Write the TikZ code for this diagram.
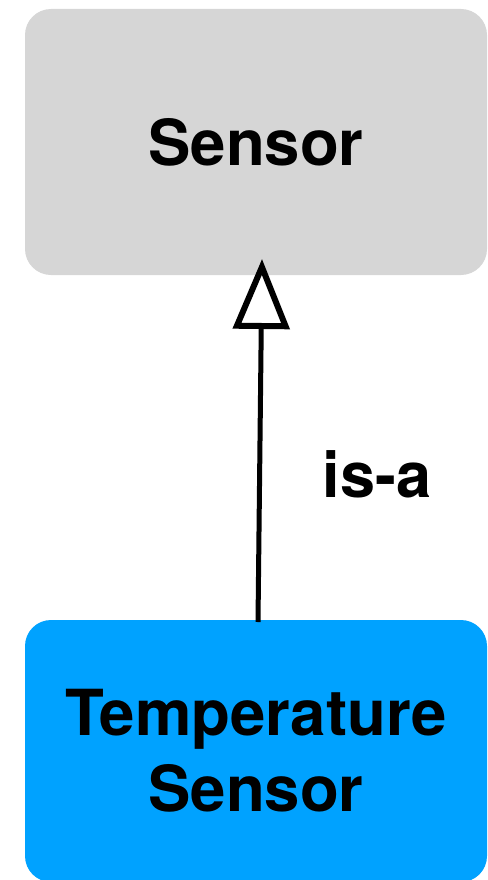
\documentclass[tikz,border=0pt]{standalone}
\usepackage{fontspec}
\setmainfont{TeX Gyre Heros}
\usetikzlibrary{arrows.meta}
\definecolor{boxgray}{HTML}{D6D6D6}
\definecolor{boxblue}{HTML}{00A2FF}
\tikzset{
  classbox/.style={rounded corners=26pt, inner sep=0pt, minimum width=462pt, align=center,
    font=\fontsize{63.5}{76}\selectfont\bfseries, text=black},
  isaline/.style={line width=5pt, -{Triangle[open, length=70pt, width=56pt, line width=6pt]}},
  lbl/.style={font=\fontsize{63}{76}\selectfont\bfseries, inner sep=0pt}
}
\begin{document}
\begin{tikzpicture}[x=1pt,y=-1pt]
\useasboundingbox (0,0) rectangle (487,880);
\clip (0,0) rectangle (487,880);
\node[classbox, fill=boxgray, minimum height=266pt] (sensor) at (256,142) {Sensor};
\node[classbox, fill=boxblue, minimum height=262pt] (tsensor) at (256,751) {Temperature\\Sensor};
\coordinate (start) at (258,622);
\coordinate (tip) at (262,259);
\draw[isaline] (start) -- (tip);
\node[lbl, anchor=base] (isa) at (377,497) {is-a};
\end{tikzpicture}
\end{document}
